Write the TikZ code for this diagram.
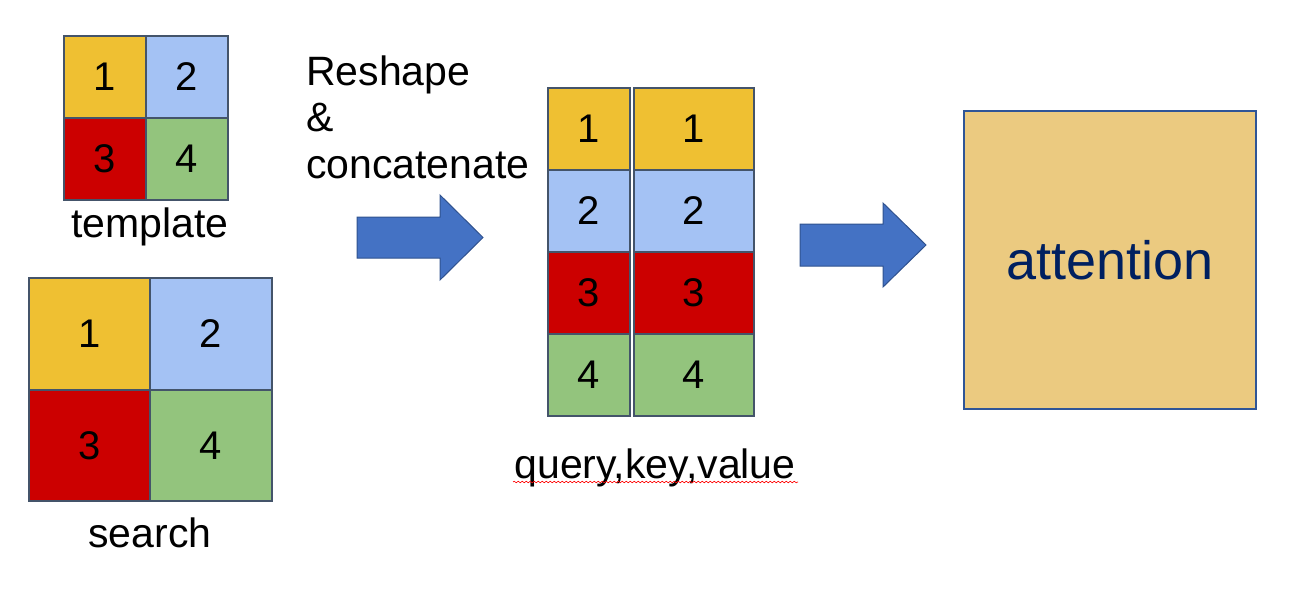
\documentclass[tikz,border=0pt]{standalone}
\usepackage{fontspec}
\setmainfont{Liberation Sans}
\usetikzlibrary{decorations.pathmorphing}
\definecolor{cyel}{RGB}{239,192,50}
\definecolor{cblu}{RGB}{164,194,244}
\definecolor{cred}{RGB}{204,0,0}
\definecolor{cgrn}{RGB}{147,196,125}
\definecolor{cedge}{RGB}{68,84,106}
\definecolor{arrfill}{RGB}{68,114,196}
\definecolor{arredge}{RGB}{47,82,143}
\definecolor{attfill}{RGB}{235,202,128}
\definecolor{attedge}{RGB}{47,85,151}
\definecolor{atttext}{RGB}{0,32,96}
\tikzset{
  cell/.style={draw=cedge, line width=2pt, rectangle, inner sep=0pt, outer sep=0pt,
    font=\fontsize{40}{40}\selectfont},
  lbl/.style={anchor=base, inner sep=0pt, font=\fontsize{41}{44}\selectfont},
  blockarrow/.style={fill=arrfill, draw=arredge, line width=1pt, line join=miter},
}
\begin{document}
\begin{tikzpicture}[x=1pt,y=-1pt]
\useasboundingbox (0,0) rectangle (1306,600);
% template
\node[cell, fill=cyel, minimum width=82pt, minimum height=82pt] (t1) at (105,77) {1};
\node[cell, fill=cblu, minimum width=82pt, minimum height=82pt] (t2) at (187,77) {2};
\node[cell, fill=cred, minimum width=82pt, minimum height=82pt] (t3) at (105,159) {3};
\node[cell, fill=cgrn, minimum width=82pt, minimum height=82pt] (t4) at (187,159) {4};
\node[lbl] (tlab) at (150,237) {template};
% search
\node[cell, fill=cyel, minimum width=121.5pt, minimum height=111.5pt] (s1) at (89.25,333.75) {1};
\node[cell, fill=cblu, minimum width=121.5pt, minimum height=111.5pt] (s2) at (210.75,333.75) {2};
\node[cell, fill=cred, minimum width=121.5pt, minimum height=111.5pt] (s3) at (89.25,445.25) {3};
\node[cell, fill=cgrn, minimum width=121.5pt, minimum height=111.5pt] (s4) at (210.75,445.25) {4};
\node[lbl] (slab) at (150,547) {search};
% reshape text
\node[anchor=base west, inner sep=0pt, align=left, font=\fontsize{41}{46.5}\selectfont] (rtxt) at (306,178) {Reshape\\\&\\concatenate};
% arrow 1
\draw[blockarrow] (357,217) -- (440,217) -- (440,195) -- (483,237.5) -- (440,280) -- (440,258) -- (357,258) -- cycle;
% columns
\node[cell, fill=cyel, minimum width=82pt, minimum height=82pt] (a1) at (589,129) {1};
\node[cell, fill=cblu, minimum width=82pt, minimum height=82pt] (a2) at (589,211) {2};
\node[cell, fill=cred, minimum width=82pt, minimum height=82pt] (a3) at (589,293) {3};
\node[cell, fill=cgrn, minimum width=82pt, minimum height=82pt] (a4) at (589,375) {4};
\node[cell, fill=cyel, minimum width=120pt, minimum height=82pt] (b1) at (694,129) {1};
\node[cell, fill=cblu, minimum width=120pt, minimum height=82pt] (b2) at (694,211) {2};
\node[cell, fill=cred, minimum width=120pt, minimum height=82pt] (b3) at (694,293) {3};
\node[cell, fill=cgrn, minimum width=120pt, minimum height=82pt] (b4) at (694,375) {4};
\node[lbl] (qlab) at (655,478) {query,key,value};
\coordinate (ul1) at (513,482);
\coordinate (ul2) at (798,482);
\draw[red, line width=0.6pt, decorate, decoration={snake, segment length=4pt, amplitude=0.8pt}] (ul1) -- (ul2);
% arrow 2
\draw[blockarrow] (800,224) -- (883,224) -- (883,203) -- (926,245) -- (883,287) -- (883,266) -- (800,266) -- cycle;
% attention
\node[draw=attedge, line width=2pt, fill=attfill, minimum width=292pt, minimum height=298pt, inner sep=0pt,
  text=atttext, font=\fontsize{54}{54}\selectfont] (att) at (1110,260) {attention};
\end{tikzpicture}
\end{document}
